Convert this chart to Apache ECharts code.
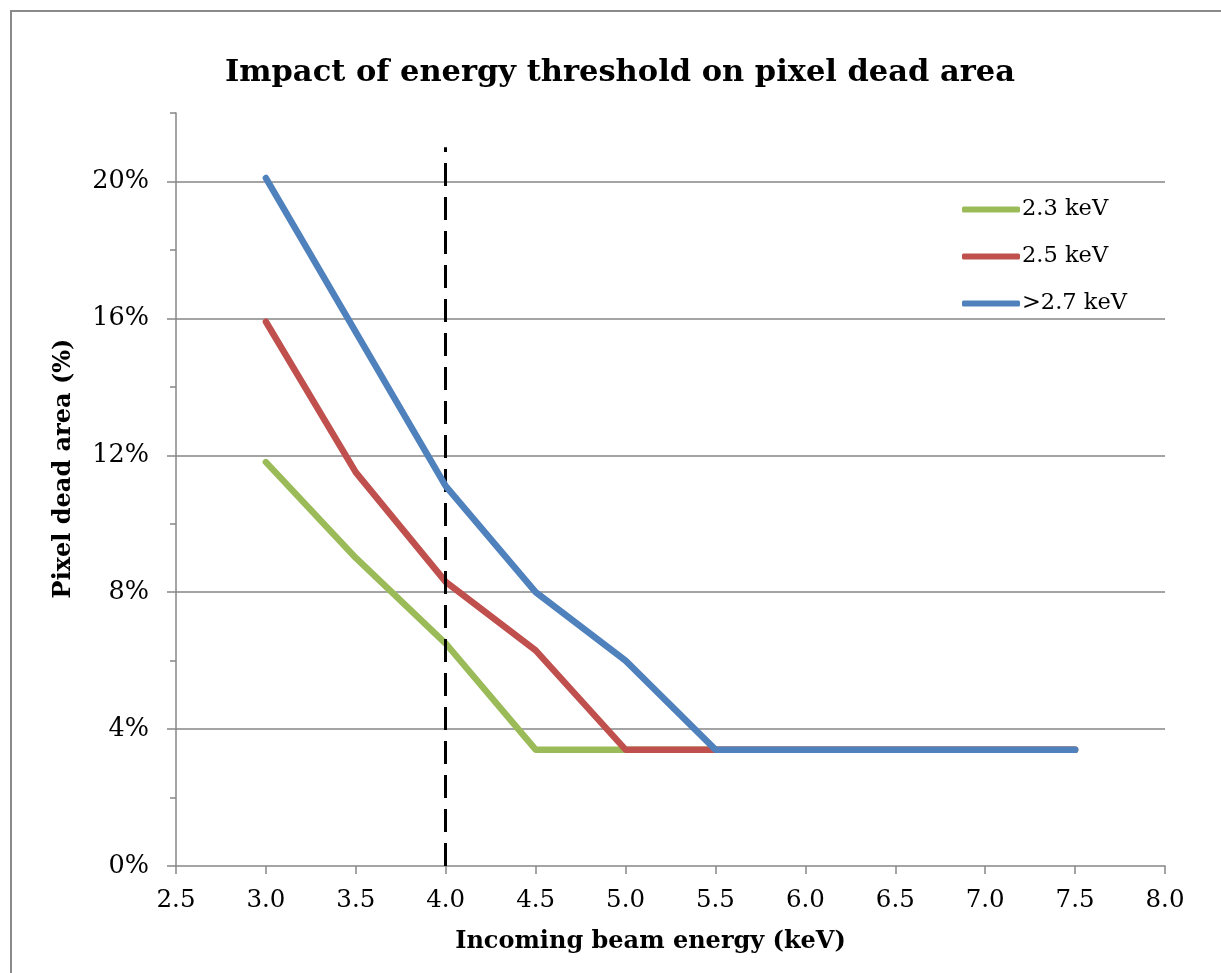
<!DOCTYPE html>
<html>
<head>
<meta charset="utf-8">
<script src="https://cdn.jsdelivr.net/npm/echarts@6/dist/echarts.min.js"></script>
<style>
  html, body { margin: 0; padding: 0; background: #fff; }
  #wrap { position: relative; width: 1221px; height: 973px; overflow: hidden; }
  #chart { width: 1221px; height: 973px; }
  #frame { position: absolute; left: 10px; top: 10px; width: 1300px; height: 1100px;
           border-left: 2px solid #8a8a8a; border-top: 2px solid #8a8a8a; pointer-events: none; }
</style>
</head>
<body>
<div id="wrap">
  <div id="chart"></div>
  <div id="frame"></div>
</div>
<script>
var chart = echarts.init(document.getElementById('chart'), null, { renderer: 'canvas' });

// beam energy (keV)
var energies = [3.0, 3.5, 4.0, 4.5, 5.0, 5.5, 6.0, 6.5, 7.0, 7.5];

// dead area (%) per threshold
var dead23 = [11.8, 9.0, 6.5, 3.4, 3.4, 3.4, 3.4, 3.4, 3.4, 3.4];
var dead25 = [15.9, 11.5, 8.3, 6.3, 3.4, 3.4, 3.4, 3.4, 3.4, 3.4];
var dead27 = [20.1, 15.6, 11.1, 8.0, 6.0, 3.4, 3.4, 3.4, 3.4, 3.4];

var names = ['2.3 keV', '2.5 keV', '>2.7 keV'];
var colors = ['#9BBB59', '#C0504D', '#4F81BD'];

var yTicks = [0, 4, 8, 12, 16, 20];
var cutEnergy = 4.0;   // dashed marker
var cutTop = 21;

var font = 'DejaVu Serif';

function pairs(ys) {
    var out = [];
    for (var i = 0; i < energies.length; i++) {
        out.push([energies[i], ys[i]]);
    }
    return out;
}

function lineSeries(idx, ys) {
    return {
        name: names[idx],
        type: 'line',
        data: pairs(ys),
        symbol: 'none',
        color: colors[idx],
        lineStyle: { width: 6.5, cap: 'round', join: 'round', color: colors[idx] },
        z: 3 + idx
    };
}

var series = [
    lineSeries(0, dead23),
    lineSeries(1, dead25),
    lineSeries(2, dead27)
];

// vertical dashed line at 4.0 keV
series[0].markLine = {
    silent: true,
    symbol: 'none',
    label: { show: false },
    lineStyle: { color: '#000', width: 3, type: [23, 11] },
    data: [[{ coord: [cutEnergy, 0] }, { coord: [cutEnergy, cutTop] }]]
};

chart.setOption({
    animation: false,
    backgroundColor: '#fff',
    title: {
        text: 'Impact of energy threshold on pixel dead area',
        left: 225,
        top: 58,
        padding: 0,
        textStyle: { fontFamily: font, fontWeight: 'bold', fontSize: 30.5, color: '#000' }
    },
    legend: {
        orient: 'vertical',
        left: 957,
        top: 193,
        itemWidth: 58,
        itemHeight: 6,
        itemGap: 24,
        icon: 'roundRect',
        data: names,
        textStyle: { fontFamily: font, fontSize: 22.5, color: '#000', padding: [0, 0, 0, -3] }
    },
    grid: { left: 176, right: 56, top: 113, bottom: 107, containLabel: false },
    xAxis: {
        type: 'value',
        min: 2.5,
        max: 8.0,
        interval: 0.5,
        name: 'Incoming beam energy (keV)',
        nameLocation: 'middle',
        nameGap: 64,
        nameTextStyle: { fontFamily: font, fontWeight: 'bold', fontSize: 24, color: '#000', padding: [0, 40, 0, 0] },
        axisLine: { lineStyle: { color: '#868686', width: 1.5 } },
        axisTick: { length: 8, lineStyle: { color: '#868686', width: 1.5 } },
        axisLabel: {
            fontFamily: font, fontSize: 24.5, color: '#000', margin: 22,
            formatter: function (v) { return v.toFixed(1); }
        },
        splitLine: { show: false }
    },
    yAxis: [
        {
            type: 'value',
            min: 0,
            max: 22,
            interval: 2,
            name: 'Pixel dead area (%)',
            nameLocation: 'middle',
            nameGap: 100,
            nameTextStyle: { fontFamily: font, fontWeight: 'bold', fontSize: 24, color: '#000', padding: [0, 0, 0, 42] },
            axisLine: { show: true, lineStyle: { color: '#868686', width: 1.5 } },
            axisTick: { length: 6, lineStyle: { color: '#868686', width: 1.5 } },
            axisLabel: { show: false },
            splitLine: { show: false }
        },
        {
            type: 'value',
            min: 0,
            max: 22,
            interval: 4,
            position: 'left',
            axisLine: { show: false },
            axisTick: { show: true, length: 9, customValues: yTicks, lineStyle: { color: '#868686', width: 1.5 } },
            axisLabel: {
                customValues: yTicks,
                fontFamily: font, fontSize: 25.5, color: '#000', margin: 27,
                formatter: function (v) { return v + '%'; }
            },
            splitLine: { show: true, showMinLine: false, lineStyle: { color: '#868686', width: 1.5 } }
        }
    ],
    series: series
});
</script>
</body>
</html>
